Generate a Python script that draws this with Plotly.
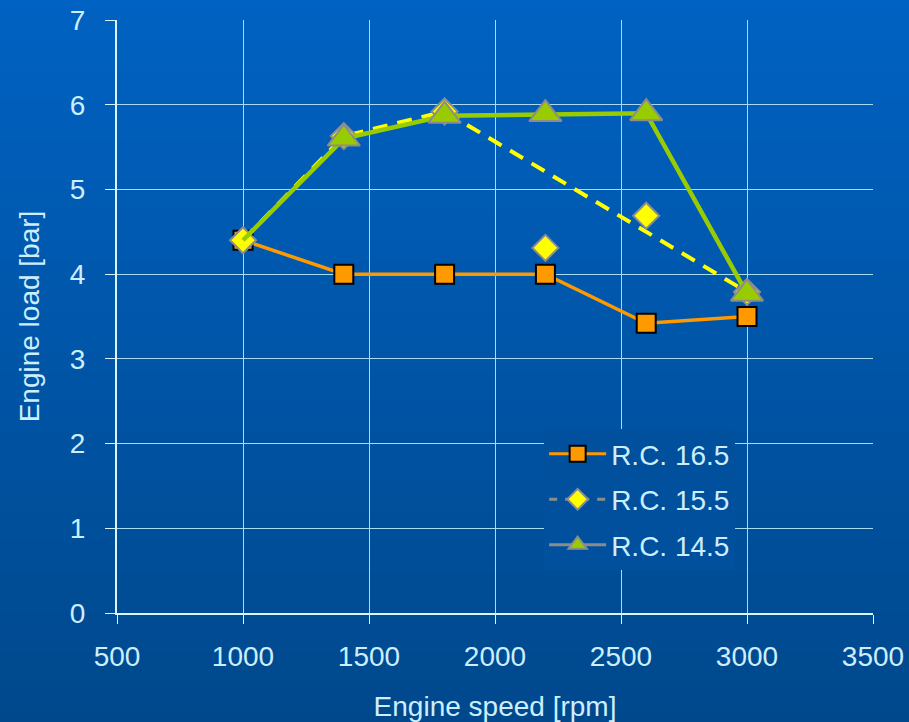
import plotly.graph_objects as go

# ---- data ----
speed = [1000, 1400, 1800, 2200, 2600, 3000]
rc165 = [4.40, 4.00, 4.00, 4.00, 3.42, 3.50]
rc155 = [4.40, 5.63, 5.92, 4.31, 4.69, 3.79]
rc155_line_x = [1000, 1400, 1800, 3000]
rc155_line_y = [4.40, 5.63, 5.92, 3.79]
rc145 = [4.40, 5.60, 5.87, 5.89, 5.90, 3.77]
rc145_marker_x = [1400, 1800, 2200, 2600, 3000]
rc145_marker_y = [5.60, 5.87, 5.89, 5.90, 3.77]

x_ticks = [500, 1000, 1500, 2000, 2500, 3000, 3500]
y_ticks = [0, 1, 2, 3, 4, 5, 6, 7]

FONT = "Liberation Sans, Arial, sans-serif"
TXT = "#CCEEFF"
GRID = "#A8DCF5"
ORANGE = "#FF9900"
YELLOW = "#FFFF00"
GREEN = "#99CC00"
GRAY = "#8C8C8C"

fig = go.Figure()

# R.C. 16.5
fig.add_trace(go.Scatter(
    x=speed, y=rc165, mode="lines+markers", showlegend=False,
    line=dict(color=ORANGE, width=3.5),
    marker=dict(symbol="square", size=19, color=ORANGE, line=dict(color="black", width=2)),
))
# R.C. 15.5 dashed line
fig.add_trace(go.Scatter(
    x=rc155_line_x, y=rc155_line_y, mode="lines", showlegend=False,
    line=dict(color=YELLOW, width=4, dash="15px,10px"),
))
# R.C. 15.5 markers
fig.add_trace(go.Scatter(
    x=speed, y=rc155, mode="markers", showlegend=False,
    marker=dict(symbol="diamond", size=20, color=YELLOW, line=dict(color=GRAY, width=2)),
))
# R.C. 14.5 line
fig.add_trace(go.Scatter(
    x=speed, y=rc145, mode="lines", showlegend=False,
    line=dict(color=GREEN, width=4.5),
))
# R.C. 14.5 markers
fig.add_trace(go.Scatter(
    x=rc145_marker_x, y=rc145_marker_y, mode="markers", showlegend=False,
    marker=dict(symbol="triangle-up", size=28, color=GREEN, line=dict(color=GRAY, width=2)),
))

# legend entries
fig.add_trace(go.Scatter(
    x=[None], y=[None], mode="lines+markers", name="R.C. 16.5", legendgroup="a",
    line=dict(color=ORANGE, width=3),
    marker=dict(symbol="square", size=16, color=ORANGE, line=dict(color="black", width=2)),
))
fig.add_trace(go.Scatter(
    x=[None], y=[None], mode="lines+markers", name="R.C. 15.5", legendgroup="b",
    line=dict(color=GRAY, width=3, dash="8px,8px"),
    marker=dict(symbol="diamond", size=16, color=YELLOW, line=dict(color=GRAY, width=2)),
))
fig.add_trace(go.Scatter(
    x=[None], y=[None], mode="lines+markers", name="R.C. 14.5", legendgroup="c",
    line=dict(color=GRAY, width=3),
    marker=dict(symbol="triangle-up", size=16, color=GREEN, line=dict(color=GRAY, width=2)),
))

# background vertical gradient
L, R, T, B = 117, 36, 20, 109
W, H = 909, 722
pw, ph = W - L - R, H - T - B
top_c = (0, 98, 194)
bot_c = (0, 72, 140)
n = 72
shapes = []
for i in range(n):
    f0 = i / n
    f1 = (i + 1) / n
    py0 = f0 * H
    py1 = f1 * H + 1
    c = tuple(round(top_c[k] + (bot_c[k] - top_c[k]) * (f0 + 0.5 / n)) for k in range(3))
    shapes.append(dict(
        type="rect", xref="paper", yref="paper", layer="below",
        x0=-L / pw, x1=1 + R / pw,
        y0=1 + (T - py1) / ph, y1=1 + (T - py0) / ph,
        fillcolor="rgb(%d,%d,%d)" % c, line=dict(width=0),
    ))

leg_c = tuple(round(top_c[k] + (bot_c[k] - top_c[k]) * (495 / H)) for k in range(3))

fig.update_layout(
    width=W, height=H,
    margin=dict(l=L, r=R, t=T, b=B, pad=0, autoexpand=False),
    paper_bgcolor="rgb(0,85,167)",
    plot_bgcolor="rgba(0,0,0,0)",
    shapes=shapes,
    font=dict(family=FONT, size=28, color=TXT),
    showlegend=True,
    legend=dict(
        x=0.565, y=0.31, xanchor="left", yanchor="top",
        bgcolor="rgb(%d,%d,%d)" % leg_c, borderwidth=0,
        font=dict(family=FONT, size=28, color=TXT),
        tracegroupgap=6, itemwidth=57,
    ),
    xaxis=dict(
        range=[500, 3500], tickvals=x_ticks, ticktext=[str(v) for v in x_ticks],
        showgrid=True, gridcolor=GRID, gridwidth=1,
        showline=True, linecolor="#D8F4FF", linewidth=2,
        ticks="outside", ticklen=9, tickcolor="#D8F4FF", tickwidth=1,
        zeroline=False, automargin=False,
        title=dict(text="Engine speed [rpm]", font=dict(size=28, color=TXT), standoff=26),
        ticklabelstandoff=8,
    ),
    yaxis=dict(
        range=[0, 7], tickvals=y_ticks,
        showgrid=True, gridcolor=GRID, gridwidth=1,
        showline=True, linecolor="#D8F4FF", linewidth=2,
        ticks="outside", ticklen=10, tickcolor="#D8F4FF", tickwidth=1,
        zeroline=False, automargin=False,
        title=dict(text="Engine load [bar]", font=dict(size=28, color=TXT), standoff=22),
        ticklabelstandoff=14,
    ),
)

fig.write_html(
    "out.html",
    config={"displayModeBar": False},
    post_script="document.body.style.margin='0';document.body.style.overflow='hidden';",
)
